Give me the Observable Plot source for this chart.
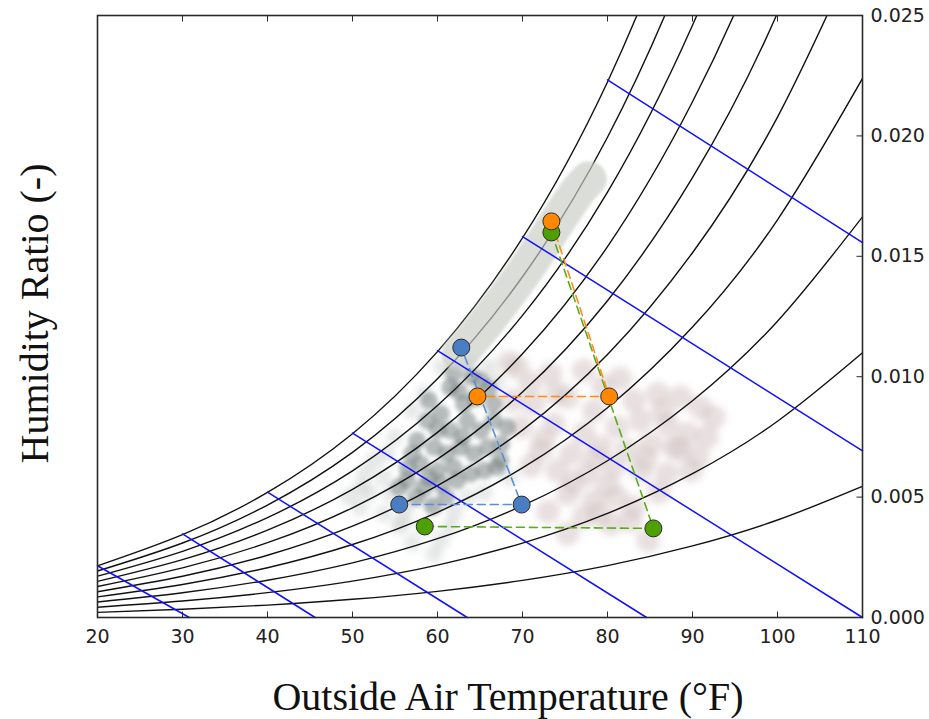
<!DOCTYPE html>
<html><head><meta charset="utf-8">
<script src="https://cdn.jsdelivr.net/npm/d3@7"></script>
<script src="https://cdn.jsdelivr.net/npm/@observablehq/plot@0.6"></script>
<style>body{margin:0;background:#fff}#chart svg{display:block}</style>
</head><body><div id="chart"></div>
<script>
// ---- axes ----
const xTicks = [20, 30, 40, 50, 60, 70, 80, 90, 100, 110];
const yTicks = [0, 0.005, 0.010, 0.015, 0.020, 0.025];
const xTitle = "Outside Air Temperature (°F)";
const yTitle = "Humidity Ratio (-)";

// ---- relative-humidity curves (humidity ratio read at each temperature) ----
const tempGrid = [20, 30, 40, 50, 60, 70, 80, 90, 100, 110];
const rh100 = [0.002145, 0.003439, 0.005194, 0.007631, 0.011040, 0.015762, 0.022239, 0.031053, 0.043002, 0.059156];
const rh90  = [0.001930, 0.003093, 0.004671, 0.006859, 0.009919, 0.014150, 0.019944, 0.027809, 0.038436, 0.052740];
const rh80  = [0.001715, 0.002748, 0.004148, 0.006089, 0.008801, 0.012546, 0.017665, 0.024597, 0.033932, 0.046441];
const rh70  = [0.001500, 0.002403, 0.003627, 0.005322, 0.007687, 0.010950, 0.015402, 0.021416, 0.029490, 0.040260];
const rh60  = [0.001285, 0.002059, 0.003106, 0.004556, 0.006577, 0.009362, 0.013155, 0.018267, 0.025107, 0.034193];
const rh50  = [0.001071, 0.001715, 0.002586, 0.003792, 0.005472, 0.007782, 0.010924, 0.015148, 0.020782, 0.028235];
const rh40  = [0.000856, 0.001371, 0.002067, 0.003030, 0.004370, 0.006210, 0.008709, 0.012060, 0.016516, 0.022385];
const rh30  = [0.000642, 0.001028, 0.001549, 0.002270, 0.003272, 0.004646, 0.006509, 0.009001, 0.012305, 0.016639];
const rh20  = [0.000428, 0.000685, 0.001032, 0.001511, 0.002177, 0.003090, 0.004324, 0.005972, 0.008150, 0.010995];
const rh10  = [0.000214, 0.000342, 0.000516, 0.000755, 0.001087, 0.001541, 0.002155, 0.002972, 0.004048, 0.005449];
const rhCurves = {100: rh100, 90: rh90, 80: rh80, 70: rh70, 60: rh60, 50: rh50, 40: rh40, 30: rh30, 20: rh20, 10: rh10};

// ---- constant-enthalpy lines: [T start, W start, T end, W end] ----
const enthalpyLines = [
  [20, 0.00215, 30.8, 0],
  [30, 0.00347, 45.6, 0],
  [40, 0.00521, 63.5, 0],
  [50, 0.00766, 84.6, 0],
  [60, 0.01108, 110, 0],
  [70, 0.01582, 110, 0.00692],
  [80, 0.02233, 110, 0.01557]
];

// ---- measured data clouds [T, W] ----
const saturatedBand = [[62.6, 0.01095], [64.5, 0.01172], [66.5, 0.01261], [69.0, 0.01377], [71.5, 0.01503], [74.0, 0.01639], [76.5, 0.01770], [77.8, 0.01820]];
const darkCloud = [
  [61.9, 0.01012], [61.5, 0.00956], [63.1, 0.00887], [65.1, 0.00984], [66.6, 0.00887],
  [58.8, 0.00818], [60.4, 0.00846], [61.5, 0.00777], [63.5, 0.00818], [65.1, 0.00777], [66.6, 0.00818], [68.2, 0.00790],
  [57.6, 0.00735], [59.6, 0.00707], [61.1, 0.00680], [62.7, 0.00707], [64.3, 0.00680], [65.9, 0.00707], [67.4, 0.00652],
  [58.0, 0.00638], [60.0, 0.00610], [61.9, 0.00624], [63.9, 0.00597], [65.5, 0.00610], [67.0, 0.00624],
  [56.4, 0.00569], [58.4, 0.00541], [60.4, 0.00555], [62.3, 0.00569],
  [59.0, 0.00900], [60.0, 0.00780], [62.5, 0.00940], [64.0, 0.01000], [63.0, 0.00750], [57.0, 0.00680],
  [56.5, 0.00620], [59.0, 0.00580], [61.0, 0.00500], [57.5, 0.00500], [59.5, 0.00460], [55.5, 0.00540],
  [64.5, 0.00910], [66.0, 0.00950], [67.5, 0.00720]
];
const greyHalo = [
  [54.5, 0.00514], [56.4, 0.00458], [58.8, 0.00486], [53.7, 0.00431], [56.0, 0.00403], [58.4, 0.00375],
  [60.4, 0.00320], [59.6, 0.00265], [52.5, 0.00652], [53.7, 0.00583], [50.9, 0.00541], [52.0, 0.00520],
  [50.9, 0.00457], [60.5, 0.01040], [63.5, 0.01050], [66.0, 0.01040], [58.5, 0.00930], [57.0, 0.00860],
  [55.0, 0.00750], [54.0, 0.00680], [62.0, 0.00440], [63.5, 0.00500], [57.0, 0.00310], [61.5, 0.00380],
  [55.5, 0.00380], [51.5, 0.00600], [49.5, 0.00500], [67.0, 0.00980], [68.5, 0.00580], [65.5, 0.00520]
];
const pinkCloud = [
  [69.4, 0.01039], [73.3, 0.01012], [77.2, 0.01026], [68.4, 0.01059], [70.9, 0.00972], [68.8, 0.00901], [81.5, 0.00993],
  [71.3, 0.00887], [75.3, 0.00915], [78.4, 0.00860], [83.1, 0.00901], [85.9, 0.00929], [88.6, 0.00915], [90.9, 0.00873], [92.5, 0.00832],
  [69.8, 0.00790], [73.7, 0.00804], [77.2, 0.00763], [81.1, 0.00790], [83.9, 0.00818], [87.0, 0.00804], [89.4, 0.00763], [91.7, 0.00749],
  [72.1, 0.00694], [75.7, 0.00680], [79.2, 0.00707], [82.3, 0.00694], [85.1, 0.00721], [87.8, 0.00707], [90.6, 0.00666],
  [74.1, 0.00610], [77.6, 0.00597], [80.7, 0.00624], [83.9, 0.00610], [87.0, 0.00597], [89.8, 0.00610],
  [75.3, 0.00514], [78.4, 0.00486], [81.1, 0.00500], [83.1, 0.00458],
  [77.2, 0.00417], [80.4, 0.00389], [75.3, 0.00348], [82.7, 0.00403], [84.8, 0.00320],
  [79.5, 0.00960], [86.5, 0.00860], [84.5, 0.00660], [78.5, 0.00660], [72.5, 0.00740], [76.0, 0.00560],
  [86.0, 0.00520], [80.0, 0.00550], [88.5, 0.00700], [74.0, 0.00930], [71.0, 0.00630], [79.0, 0.00430], [73.0, 0.00440]
];

// ---- highlighted states (drawn in order, joined by dashed lines) ----
const blueT = [55.5, 69.9, 62.8],   blueW = [0.00469, 0.00469, 0.01121];
const greenT = [73.4, 85.4, 58.5],  greenW = [0.01599, 0.00370, 0.00378];
const orangeT = [73.4, 80.2, 64.7], orangeW = [0.01645, 0.00918, 0.00918];

// ---- build tables ----
const curveRows = [];
for (const [rh, vals] of Object.entries(rhCurves)) vals.forEach((w, i) => curveRows.push({rh: +rh, T: tempGrid[i], W: w}));
const enthRows = [];
enthalpyLines.forEach((l, i) => { enthRows.push({id: i, T: l[0], W: l[1]}); enthRows.push({id: i, T: l[2], W: l[3]}); });
const states = (T, W) => T.map((t, i) => ({T: t, W: W[i]}));
const blue = states(blueT, blueW), green = states(greenT, greenW), orange = states(orangeT, orangeW);
const bandRows = saturatedBand.map(d => ({T: d[0], W: d[1]}));

const tickUp = {draw(c) { c.moveTo(0, 0); c.lineTo(0, -6); }};
const tickDown = {draw(c) { c.moveTo(0, 0); c.lineTo(0, 6); }};
const tickLeft = {draw(c) { c.moveTo(0, 0); c.lineTo(-6, 0); }};

const sansFont = "DejaVu Sans";
const serifFont = "Liberation Serif";

const chart = Plot.plot({
  width: 929, height: 719,
  marginLeft: 97, marginRight: 67, marginTop: 15, marginBottom: 102,
  x: {domain: [20, 110], axis: null},
  y: {domain: [0, 0.025], axis: null},
  style: {background: "#fff"},
  marks: [
    Plot.dot(greyHalo, {x: d => d[0], y: d => d[1], r: 9, fill: "#b4baba", fillOpacity: 0.32, ariaDescription: "cloud-halo"}),
    Plot.dot(pinkCloud, {x: d => d[0], y: d => d[1], r: 12, fill: "#d2c2c2", fillOpacity: 0.5, ariaDescription: "cloud-pink"}),
    Plot.dot(darkCloud, {x: d => d[0], y: d => d[1], r: 9, fill: "#6e7777", fillOpacity: 0.5, ariaDescription: "cloud-dark"}),
    Plot.line(curveRows, {x: "T", y: "W", z: "rh", curve: "natural", stroke: "#111", strokeWidth: 1.4, clip: true}),
    Plot.line(bandRows, {x: "T", y: "W", curve: "natural", stroke: "#c8cbc4", strokeWidth: 36, strokeOpacity: 0.66, strokeLinecap: "round", ariaDescription: "band"}),
    Plot.line(enthRows, {x: "T", y: "W", z: "id", stroke: "#1010ff", strokeWidth: 1.5}),
    Plot.line(blue, {x: "T", y: "W", stroke: "#5a8ed6", strokeWidth: 1.6, strokeDasharray: "8,5"}),
    Plot.line(green, {x: "T", y: "W", stroke: "#5aad1a", strokeWidth: 1.6, strokeDasharray: "8,5"}),
    Plot.line(orange, {x: "T", y: "W", stroke: "#ff8c1a", strokeWidth: 1.6, strokeDasharray: "8,5"}),
    Plot.dot(blue, {x: "T", y: "W", r: 8.5, fill: "#4a7ec4", stroke: "#2a2a2a", strokeWidth: 1}),
    Plot.dot(green, {x: "T", y: "W", r: 8.5, fill: "#4ea000", stroke: "#2a2a2a", strokeWidth: 1}),
    Plot.dot(orange, {x: "T", y: "W", r: 8.5, fill: "#ff8800", stroke: "#2a2a2a", strokeWidth: 1}),
    Plot.frame({stroke: "#2a2a2a", strokeWidth: 1.6}),
    Plot.dot(xTicks.slice(1, -1), {x: d => d, y: 0, symbol: tickUp, fill: "none", stroke: "#2a2a2a", strokeWidth: 1}),
    Plot.dot(xTicks.slice(1, -1), {x: d => d, y: 0.025, symbol: tickDown, fill: "none", stroke: "#2a2a2a", strokeWidth: 1}),
    Plot.dot(yTicks.slice(1, -1), {x: 110, y: d => d, symbol: tickLeft, fill: "none", stroke: "#2a2a2a", strokeWidth: 1}),
    Plot.text(xTicks, {x: d => d, y: 0, dy: 19, text: d => String(d), fontSize: 19, fontFamily: sansFont, fill: "#222"}),
    Plot.text(yTicks, {x: 110, y: d => d, dx: 8, textAnchor: "start", text: d => d3.format(".3f")(d), fontSize: 19, fontFamily: sansFont, fill: "#222"}),
    Plot.text([xTitle], {frameAnchor: "bottom", textAnchor: "middle", lineAnchor: "middle", dx: 28, dy: 80, text: d => d, fontSize: 40, fontFamily: serifFont, fill: "#111"}),
    Plot.text([yTitle], {frameAnchor: "left", textAnchor: "middle", lineAnchor: "middle", dx: -62, dy: -3, rotate: -90, text: d => d, fontSize: 40, fontFamily: serifFont, fill: "#111"})
  ]
});
document.getElementById("chart").appendChild(chart);

// soft edges for the measured clouds via SVG blur filters
const NS = "http://www.w3.org/2000/svg";
const defs = document.createElementNS(NS, "defs");
chart.insertBefore(defs, chart.firstChild);
function blurFilter(id, sd) {
  const f = document.createElementNS(NS, "filter");
  f.setAttribute("id", id);
  f.setAttribute("filterUnits", "userSpaceOnUse");
  f.setAttribute("x", 0); f.setAttribute("y", 0);
  f.setAttribute("width", 929); f.setAttribute("height", 719);
  const b = document.createElementNS(NS, "feGaussianBlur");
  b.setAttribute("stdDeviation", sd);
  f.appendChild(b);
  defs.appendChild(f);
}
blurFilter("blur3", 3.5);
blurFilter("blur2", 2.2);
blurFilter("blur1", 1.5);
const setFilter = (label, id) => chart.querySelectorAll(`g[aria-description="${label}"]`).forEach(g => g.setAttribute("filter", `url(#${id})`));
setFilter("cloud-halo", "blur3");
setFilter("cloud-pink", "blur3");
setFilter("cloud-dark", "blur2");
setFilter("band", "blur1");
</script></body></html>
